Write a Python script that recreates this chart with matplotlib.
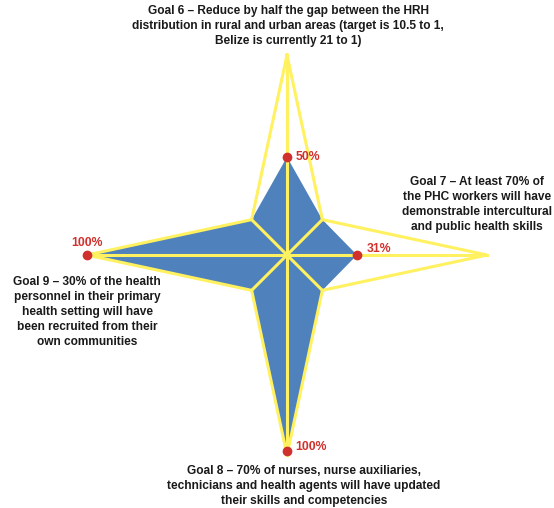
import numpy as np
import matplotlib
matplotlib.use('Agg')
import matplotlib.pyplot as plt

plt.rcParams['font.family'] = ['Liberation Sans', 'DejaVu Sans']

# spokes go clockwise from the top: goal 6, diag, goal 7, diag, goal 8, diag, goal 9, diag
spoke_names = ['Goal 6', '', 'Goal 7', '', 'Goal 8', '', 'Goal 9', '']
target = [1.0, 0.25, 1.0, 0.25, 1.0, 0.25, 1.0, 0.25]
current = [0.49, 0.25, 0.35, 0.25, 0.98, 0.25, 1.0, 0.25]
point_labels = ['50%', '', '31%', '', '100%', '', '100%', '']

goal_texts = [
    'Goal 6 \u2013 Reduce by half the gap between the HRH\ndistribution in rural and urban areas (target is 10.5 to 1,\nBelize is currently 21 to 1)',
    'Goal 7 \u2013 At least 70% of\nthe PHC workers will have\ndemonstrable intercultural\nand public health skills',
    'Goal 8 \u2013 70% of nurses, nurse auxiliaries,\ntechnicians and health agents will have updated\ntheir skills and competencies',
    'Goal 9 \u2013 30% of the health\npersonnel in their primary\nhealth setting will have\nbeen recruited from their\nown communities',
]

blue = '#4F81BD'
yellow = '#FFF15F'
red = '#D0312D'

W, H = 554, 508
fig = plt.figure(figsize=(W / 100, H / 100), dpi=100)
ax = fig.add_axes([87 / W, 53 / H, 400 / W, 400 / H], projection='polar')
ax.set_theta_zero_location('N')
ax.set_theta_direction(-1)
ax.set_ylim(0, 1)
ax.axis('off')

theta = np.linspace(0, 2 * np.pi, len(target), endpoint=False)
th = np.append(theta, theta[0])

ax.fill(th, np.append(current, current[0]), color=blue, zorder=1, lw=0,
        clip_on=False)
ax.plot(th, np.append(target, target[0]), color=yellow, lw=2.2, zorder=2,
        solid_joinstyle='miter', clip_on=False)
for t, r in zip(theta, target):
    ax.plot([t, t], [0, r], color=yellow, lw=2.2, zorder=2, clip_on=False)

# red markers for the four goals
for t, v, lab in zip(theta, current, point_labels):
    if not lab:
        continue
    ax.plot(t, v, 'o', color=red, ms=6, zorder=3, clip_on=False)

offsets = {0: (6, 0, 'left', 'center'), 2: (7, 4, 'left', 'center'),
           4: (6, 3, 'left', 'center'), 6: (0, 4, 'center', 'bottom')}
for i, (dx, dy, ha, va) in offsets.items():
    ax.annotate(point_labels[i], (theta[i], current[i]), xytext=(dx, dy),
                textcoords='offset points', ha=ha, va=va, color=red,
                fontsize=8.8, fontweight='bold', zorder=4,
                annotation_clip=False)

# goal captions
cap_pos = [(288, 5, 'top'), (477, 176, 'top'), (304, 465, 'top'), (87, 276, 'top')]
for txt, (x, y, va) in zip(goal_texts, cap_pos):
    fig.text(x / W, 1 - y / H, txt, ha='center', va=va, fontsize=8.6,
             fontweight='bold', color='#1a1a1a', linespacing=1.33,
             multialignment='center')

fig.savefig('out.png', dpi=100)
